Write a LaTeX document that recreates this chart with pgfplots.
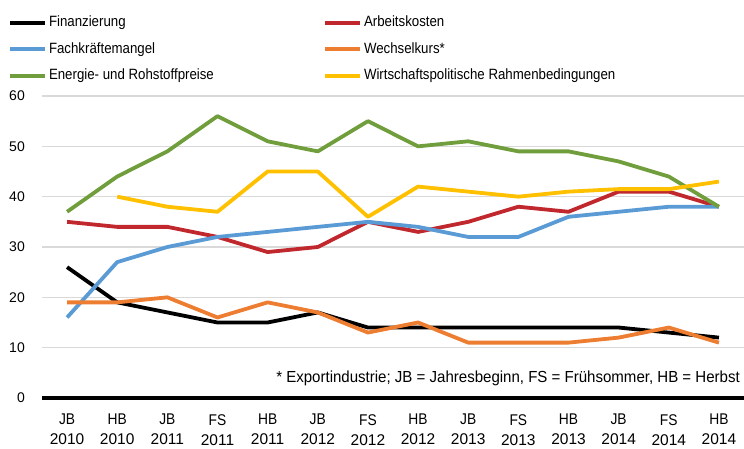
\documentclass[border=0pt]{standalone}
\usepackage{pgfplots}
\usepackage{pgfplotstable}
\pgfplotsset{compat=1.18}
\usepackage{fontspec}
\setmainfont{Liberation Sans}
\newfontfamily\condf[FakeStretch=0.89]{Liberation Sans}
\newfontfamily\footf[FakeStretch=0.94]{Liberation Sans}
\definecolor{cred}{HTML}{C0282D}
\definecolor{cblue}{HTML}{5B9BD5}
\definecolor{corange}{HTML}{ED7D31}
\definecolor{cgreen}{HTML}{719E3C}
\definecolor{cyellow}{HTML}{FFC000}
\definecolor{cgrid}{HTML}{D9D9D9}
\pgfplotstableread{
x fin arb fach wech ener wirt
0 26 35 16 19 37 nan
1 19 34 27 19 44 40
2 17 34 30 20 49 38
3 15 32 32 16 56 37
4 15 29 33 19 51 45
5 17 30 34 17 49 45
6 14 35 35 13 55 36
7 14 33 34 15 50 42
8 14 35 32 11 51 41
9 14 38 32 11 49 40
10 14 37 36 11 49 41
11 14 41 37 12 47 41.5
12 13 41 38 14 44 41.5
13 12 38 38 11 38 43
}\data
\begin{document}
\begin{tikzpicture}[x=1pt,y=1pt]
\useasboundingbox (0,0) rectangle (744,448);
\begin{axis}[
 at={(42pt,50pt)}, anchor=south west,
 scale only axis, width=702pt, height=302pt,
 xmin=-0.5, xmax=13.5, ymin=0, ymax=60,
 axis line style={draw=none},
 major tick length=0pt,
 xtick={0,...,13},
 xticklabels={{\condf JB\\2010},{\condf HB\\2010},{\condf JB\\2011},{\condf FS\\2011},{\condf HB\\2011},{\condf JB\\2012},{\condf FS\\2012},{\condf HB\\2012},{\condf JB\\2013},{\condf FS\\2013},{\condf HB\\2013},{\condf JB\\2014},{\condf FS\\2014},{\condf HB\\2014}},
 xticklabel style={align=center, anchor=north, inner sep=0pt, yshift=-16pt, font=\fontsize{15.5}{20}\selectfont},
 ytick={10,20,...,60},
 extra y ticks={0},
 extra y tick style={grid style={black, line width=4pt}},
 ymajorgrids,
 grid style={cgrid, line width=1.5pt},
 yticklabel style={anchor=east, inner sep=0pt, xshift=-17pt, font=\fontsize{14}{16}\selectfont},
 /pgf/number format/assume math mode=true,
 clip=false,
 legend columns=2,
 legend cell align=left,
 legend style={at={(0,1)}, anchor=north west, xshift=-34pt, yshift=80pt, draw=none, fill=none, inner sep=0pt, outer sep=0pt, font=\condf\fontsize{14.9}{16}\selectfont, nodes={inner sep=0pt, text height=10.5pt, text depth=3pt}, row sep=13pt, /tikz/every odd column/.append style={column sep=2pt}, /tikz/every even column/.append style={column sep=0pt}},
 legend image code/.code={\draw[#1, line width=4pt] (0pt,0pt) -- (35pt,0pt);},
 every axis plot/.append style={line width=3.8pt, line join=round, no markers},
]
\addplot[black] table[x=x,y=fin] {\data};
\addlegendentry{\makebox[274pt][l]{Finanzierung}}
\addplot[cred] table[x=x,y=arb] {\data};
\addlegendentry{Arbeitskosten}
\addplot[cblue] table[x=x,y=fach] {\data};
\addlegendentry{\makebox[274pt][l]{Fachkräftemangel}}
\addplot[corange] table[x=x,y=wech] {\data};
\addlegendentry{Wechselkurs*}
\addplot[cgreen] table[x=x,y=ener] {\data};
\addlegendentry{\makebox[274pt][l]{Energie- und Rohstoffpreise}}
\addplot[cyellow] table[x=x,y=wirt] {\data};
\addlegendentry{Wirtschaftspolitische Rahmenbedingungen}
\node[anchor=base east, inner sep=0pt, font=\footf\fontsize{16}{18}\selectfont] at (rel axis cs:0.9943,0.0497) {* Exportindustrie; JB = Jahresbeginn, FS = Frühsommer, HB = Herbst};
\end{axis}
\end{tikzpicture}
\end{document}
